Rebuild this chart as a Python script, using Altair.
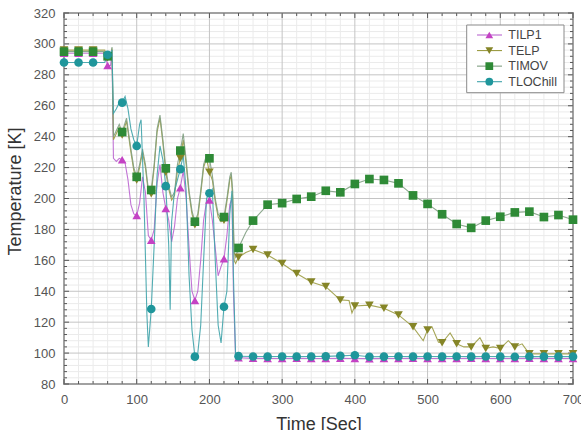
import altair as alt
import pandas as pd

SERIES = ["TILP1", "TELP", "TIMOV", "TLOChill"]
MARKER_COLORS = ["#c442c4", "#858527", "#2e8a36", "#1f969b"]
LINE_COLORS = ["#bb66d0", "#9c9c45", "#809e82", "#3fa3aa"]
SHAPES = ["triangle-up", "triangle-down", "square", "circle"]

X_TICKS = [0, 100, 200, 300, 400, 500, 600, 700]
Y_TICKS = [80, 100, 120, 140, 160, 180, 200, 220, 240, 260, 280, 300, 320]

# ---- TILP1 ----
T_TILP1 = [0, 20, 40, 56, 60, 64, 66, 68, 72, 76, 80, 84, 88, 92, 96, 100, 104, 108, 112, 116,
           120, 124, 128, 132, 136, 140, 144, 148, 152, 156, 160, 164, 168, 172, 176, 180, 184, 188,
           192, 196, 200, 204, 208, 212, 216, 220, 224, 228, 231, 233, 236, 240,
           260, 280, 300, 320, 340, 360, 380, 400, 420, 440, 460, 480, 500, 520, 540, 560, 580,
           600, 620, 640, 660, 680, 700]
V_TILP1 = [294, 294, 294, 294, 286, 286, 294, 226, 224, 226, 225, 223, 212, 196, 190, 189, 197, 214, 204, 176,
           173, 180, 210, 222, 204, 193.5, 186, 172, 182, 200, 207, 218, 200, 168, 140, 134, 140, 160,
           186, 198, 199, 186, 168, 150, 156, 161, 176, 196, 200, 140, 97, 97,
           96.6, 96.5, 96.5, 96.6, 96.5, 96.5, 96.6, 96.5, 96.4, 96.5, 96.5, 96.6, 96.5, 96.5, 96.5, 96.6, 96.5,
           96.5, 96.5, 96.6, 96.5, 96.5, 96.5]

# ---- TELP ----
T_TELP = [0, 20, 40, 56, 60, 64, 66, 68, 72, 76, 80, 86, 92, 96, 100, 104, 108, 112, 116, 120,
          124, 128, 132, 136, 140, 144, 148, 152, 156, 160, 164, 168, 172, 176, 180, 184, 188, 192,
          196, 200, 204, 208, 212, 216, 220, 224, 228, 230, 232, 234, 236, 240,
          250, 260, 280, 300, 320, 340, 360, 380, 392, 396, 400, 420, 440, 460, 480, 494, 500, 506,
          515, 520, 531, 540, 550, 560, 572, 580, 590, 600, 611, 620, 630, 640, 660, 680, 700]
V_TELP = [296, 296, 296, 296, 291, 291, 297, 238, 242, 246, 241, 250, 230, 218, 212, 220, 230, 220, 204, 203,
          220, 243, 252, 236, 217, 206, 199, 202, 218, 226, 238, 222, 203, 190, 183, 188, 203, 220,
          226, 217, 212, 198, 188, 185, 186, 198, 212, 215, 200, 160, 158, 162,
          165, 167, 163.5, 158, 151.5, 146, 143, 134.4, 134, 126, 130.5, 131, 129, 124.7, 117, 108, 115, 117,
          107, 106.7, 113, 106, 104, 104, 110, 103, 104, 103, 108, 104, 106, 99.5, 99.5, 99.5, 99.5]

# ---- TIMOV ----
T_TIMOV = [0, 20, 40, 56, 60, 64, 66, 68, 72, 76, 80, 86, 92, 96, 100, 104, 108, 112, 116, 120,
           124, 128, 132, 136, 140, 144, 148, 152, 156, 160, 164, 168, 172, 176, 180, 184, 188, 192,
           196, 200, 204, 208, 212, 216, 220, 224, 228, 230, 232, 234, 236, 240,
           250, 260, 280, 300, 320, 340, 360, 380, 400, 420, 440, 460, 480, 500, 520, 540, 560,
           580, 600, 620, 640, 660, 680, 700]
V_TIMOV = [295, 295, 295, 295, 292, 292, 298, 240, 244, 248, 243, 252, 232, 220, 214, 222, 232, 222, 206, 205.5,
           222, 245, 254, 238, 219.5, 208, 201, 204, 222, 231, 242, 225, 205, 192, 185, 190, 205, 222,
           228, 226, 215, 200, 190, 187, 188, 200, 214, 217, 205, 165, 162, 168,
           178, 185.7, 196, 197, 199.7, 201.2, 205, 204, 209.4, 212.6, 212, 209.8, 202, 196.5, 189.8, 183.5, 181,
           185.7, 188.2, 191, 191.5, 188, 189.3, 186.3]

# ---- TLOChill ----
T_TLOCHILL = [0, 20, 40, 56, 60, 64, 66, 68, 72, 76, 80, 84, 88, 92, 96, 100, 104, 106, 110, 114,
              116, 120, 124, 128, 132, 136, 140, 144, 146, 148, 152, 156, 160, 164, 168, 172, 176, 180,
              184, 188, 192, 196, 200, 204, 208, 212, 216, 220, 224, 228, 231, 233, 236, 240,
              260, 280, 300, 320, 340, 360, 380, 400, 420, 440, 460, 480, 500, 520, 540, 560, 580,
              600, 620, 640, 660, 680, 700]
V_TLOCHILL = [288, 288, 288, 288, 293, 293, 296, 255, 258, 262, 262, 266, 258, 245, 238, 234, 248, 251, 200, 125,
              104, 128.5, 170, 215, 234, 225, 208, 170, 128, 185, 205, 212, 219, 228, 205, 150, 115, 97.7,
              100, 118, 160, 200, 203.4, 206, 160, 118, 106.5, 130, 140, 190, 205, 150, 98, 98,
              97.8, 97.7, 97.8, 97.7, 97.8, 97.9, 98.2, 98.6, 97.6, 97.7, 97.8, 97.7, 97.8, 97.7, 97.8, 97.7, 97.8,
              97.7, 97.6, 97.8, 97.7, 97.7, 97.7]

rows = []
for name, ts, vs in [("TILP1", T_TILP1, V_TILP1), ("TELP", T_TELP, V_TELP),
                     ("TIMOV", T_TIMOV, V_TIMOV), ("TLOChill", T_TLOCHILL, V_TLOCHILL)]:
    for t, v in zip(ts, vs):
        rows.append({"series": name, "t": t, "v": v})
df = pd.DataFrame(rows)

W, H = 509, 371
FONT = "Liberation Sans"
FRAME = "#555555"

x_scale = alt.Scale(domain=[0, 700], nice=False, zero=False)
y_scale = alt.Scale(domain=[80, 320], nice=False, zero=False)
color_scale = alt.Scale(domain=SERIES, range=MARKER_COLORS)
stroke_scale = alt.Scale(domain=SERIES, range=LINE_COLORS)
shape_scale = alt.Scale(domain=SERIES, range=SHAPES)

x_axis = alt.Axis(values=X_TICKS, title="Time [Sec]", grid=False, ticks=False, domain=False,
                  labelFontSize=13, labelColor="#555555", labelPadding=9, labelFlush=False,
                  labelOverlap=False, labelFont=FONT, titleFont=FONT, titleFontSize=18,
                  titleFontWeight="normal", titleColor="#333333", titleY=45,
                  titleBaseline="alphabetic")
y_axis = alt.Axis(values=Y_TICKS, title="Temperature [K]", grid=False, ticks=False, domain=False,
                  labelFontSize=13, labelColor="#555555", labelPadding=9, labelOverlap=False,
                  labelFont=FONT, titleFont=FONT, titleFontSize=18, titleFontWeight="normal",
                  titleColor="#333333", titleX=-44, titleY=178, titleBaseline="alphabetic",
                  titleAlign="center", titleAngle=270)


def X(field):
    return alt.X(field, scale=x_scale, axis=x_axis)


def Y(field):
    return alt.Y(field, scale=y_scale, axis=y_axis)


minor_x = [v for v in range(0, 701, 20) if v % 100 != 0]
minor_y = [v for v in range(80, 321, 4) if v % 20 != 0]

gx_minor = alt.Chart(pd.DataFrame({"t": minor_x})).mark_rule(color="#ebebeb", strokeWidth=1).encode(x=X("t:Q"))
gy_minor = alt.Chart(pd.DataFrame({"v": minor_y})).mark_rule(color="#ebebeb", strokeWidth=1).encode(y=Y("v:Q"))
gx_major = alt.Chart(pd.DataFrame({"t": X_TICKS})).mark_rule(color="#c4c4c4", strokeWidth=1).encode(x=X("t:Q"))
gy_major = alt.Chart(pd.DataFrame({"v": Y_TICKS})).mark_rule(color="#c4c4c4", strokeWidth=1).encode(y=Y("v:Q"))


def xticks(vals, length):
    d = pd.DataFrame({"t": vals})
    bot = alt.Chart(d).mark_rule(color=FRAME, strokeWidth=1).encode(
        x=X("t:Q"), y=alt.value(H), y2=alt.value(H - length))
    top = alt.Chart(d).mark_rule(color=FRAME, strokeWidth=1).encode(
        x=X("t:Q"), y=alt.value(0), y2=alt.value(length))
    return [bot, top]


def yticks(vals, length):
    d = pd.DataFrame({"v": vals})
    left = alt.Chart(d).mark_rule(color=FRAME, strokeWidth=1).encode(
        y=Y("v:Q"), x=alt.value(0), x2=alt.value(length))
    right = alt.Chart(d).mark_rule(color=FRAME, strokeWidth=1).encode(
        y=Y("v:Q"), x=alt.value(W), x2=alt.value(W - length))
    return [left, right]


lines = alt.Chart(df).mark_line(strokeWidth=1.1, opacity=0.9).encode(
    x=X("t:Q"),
    y=Y("v:Q"),
    stroke=alt.Stroke("series:N", scale=stroke_scale, legend=None),
    detail="series:N",
    order="t:Q",
)

points = alt.Chart(df).transform_filter("datum.t % 20 == 0").mark_point(
    filled=True, size=75, opacity=1).encode(
    x=X("t:Q"),
    y=Y("v:Q"),
    color=alt.Color("series:N", scale=color_scale, legend=None),
    shape=alt.Shape("series:N", scale=shape_scale, legend=None),
)

main = alt.layer(gx_minor, gy_minor, gx_major, gy_major,
                 *xticks(minor_x, 3), *xticks(X_TICKS, 5),
                 *yticks(minor_y, 3), *yticks(Y_TICKS, 5),
                 lines, points)

# ---- legend ----
leg_df = pd.DataFrame({"series": SERIES})
leg_y = alt.Scale(type="point", domain=SERIES, range=[22, 68.7], padding=0)
leg_box = alt.Chart(alt.Data(values=[{}])).mark_rect(fill="white", stroke="#8a8a8a", strokeWidth=1).encode(
    x=alt.value(402.7), x2=alt.value(500), y=alt.value(12), y2=alt.value(79.7))
leg_stub = alt.Chart(leg_df).mark_rule(strokeWidth=1.1).encode(
    x=alt.value(413), x2=alt.value(438),
    y=alt.Y("series:N", scale=leg_y, axis=None),
    stroke=alt.Stroke("series:N", scale=stroke_scale, legend=None))
leg_pt = alt.Chart(leg_df).mark_point(filled=True, size=60, opacity=1).encode(
    x=alt.value(425.3),
    y=alt.Y("series:N", scale=leg_y, axis=None),
    color=alt.Color("series:N", scale=color_scale, legend=None),
    shape=alt.Shape("series:N", scale=shape_scale, legend=None))
leg_txt = alt.Chart(leg_df).mark_text(align="left", baseline="middle", fontSize=12.5,
                                      color="#444444", font=FONT).encode(
    x=alt.value(444.3),
    y=alt.Y("series:N", scale=leg_y, axis=None),
    text="series:N")
legend = alt.layer(leg_box, leg_stub, leg_pt, leg_txt)

chart = alt.layer(main, legend).resolve_scale(y="independent").properties(
    width=W, height=H,
    autosize=alt.AutoSizeParams(type="none"),
    padding={"left": 64, "top": 13, "right": 8, "bottom": 46},
).configure(font=FONT).configure_view(stroke=FRAME, strokeWidth=1.5)

chart.save("out.html", embed_options={"renderer": "svg", "actions": False})
